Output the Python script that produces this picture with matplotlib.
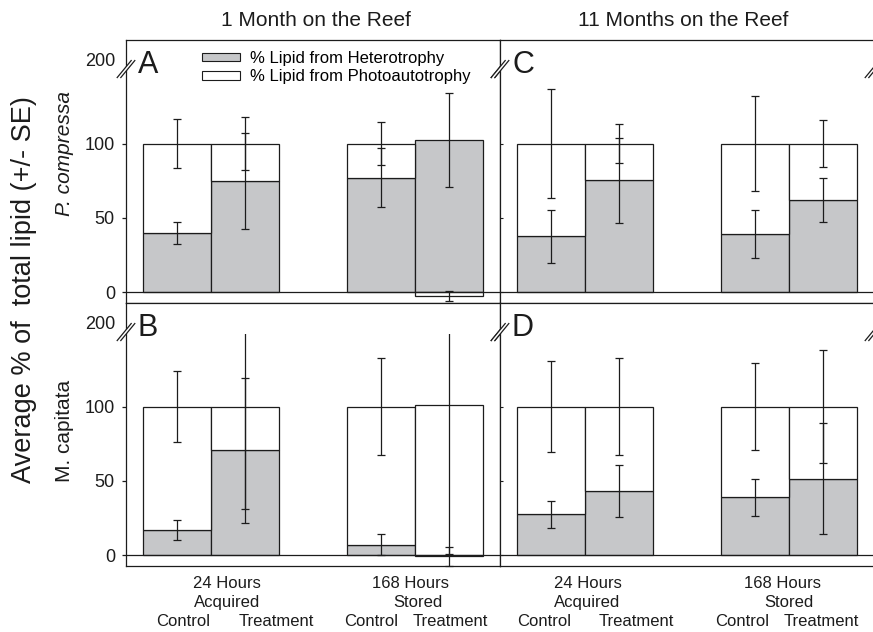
import numpy as np
import matplotlib
matplotlib.use("Agg")
import matplotlib.pyplot as plt
import matplotlib.transforms as mtransforms
from matplotlib.patches import Patch, Polygon, Rectangle

plt.rcParams['font.family'] = ['Liberation Sans', 'DejaVu Sans']

# ----------------------------------------------------------
# DATA
# order of bars: 24h Control, 24h Treatment, 168h Control, 168h Treatment
# ----------------------------------------------------------
het_A = [40.0, 75.0, 77.0, 102.3]
het_err_A = [7.4, 32.2, 19.7, 31.5]
photo_A = [60.0, 25.0, 23.0, -2.3]
photo_err_A = [16.4, 17.7, 14.4, 3.4]

het_B = [17.0, 70.6, 7.3, -0.7]
het_err_B = [6.6, 48.6, 7.3, 6.1]
photo_B = [83.0, 29.4, 92.7, 101.0]
photo_err_B = [23.9, 68.9, 32.8, 100.0]

het_C = [37.6, 75.2, 39.5, 62.2]
het_err_C = [17.9, 28.4, 16.1, 14.7]
photo_C = [62.4, 24.8, 60.5, 37.8]
photo_err_C = [36.9, 13.4, 32.1, 15.9]

het_D = [27.5, 43.2, 38.9, 51.6]
het_err_D = [9.1, 17.5, 12.7, 37.5]
photo_D = [72.5, 56.8, 61.1, 48.4]
photo_err_D = [30.8, 32.6, 29.0, 37.9]

col_titles = ["1 Month on the Reef", "11 Months on the Reef"]
row_labels = ["P. compressa", "M. capitata"]
panel_letters = [["A", "C"], ["B", "D"]]
legend_labels = ["% Lipid from Heterotrophy", "% Lipid from Photoautotrophy"]
ylabel = "Average % of  total lipid (+/- SE)"
ytick_vals = [0, 50, 100]
ytick_labels = ["0", "50", "100", "200"]
group_labels = [["24 Hours", "Acquired"], ["168 Hours", "Stored"]]
cond_labels = ["Control", "Treatment"]

GRAY = '#c6c7c9'
INK = '#1c1c1c'
W, H = 873, 632
BREAK_AT = 150.0    # where the broken axis jumps to 200
LABEL_200 = 156.2


def draw_break(ax, xfrac, yval, axw=374.0, axh=263.0):
    y0, y1 = ax.get_ylim()
    yc = (yval - y0) / (y1 - y0)
    hx, hy = 7.0 / axw, 8.5 / axh
    g = 1.8 / axw
    poly = Polygon([(xfrac - hx - g, yc - hy), (xfrac + hx - g, yc + hy),
                    (xfrac + hx + g, yc + hy), (xfrac - hx + g, yc - hy)],
                   closed=True, transform=ax.transAxes, fc='white', ec='none',
                   clip_on=False, zorder=6)
    ax.add_patch(poly)
    for s in (-g, g):
        ax.plot([xfrac - hx + s, xfrac + hx + s], [yc - hy, yc + hy],
                transform=ax.transAxes, color=INK, lw=0.9, clip_on=False,
                zorder=7)


def draw_panel(ax, het, het_err, photo, photo_err):
    x = np.array([0.75, 1.75, 3.75, 4.75])
    het = np.array(het)
    photo = np.array(photo)
    # negative parts hang below zero instead of stacking
    photo_bottom = np.where(photo >= 0, np.clip(het, 0, None), 0)
    ax.bar(x, het, width=1.0, color=GRAY, edgecolor=INK, linewidth=0.9,
           zorder=2)
    ax.bar(x, photo, width=1.0, bottom=photo_bottom, color='white',
           edgecolor=INK, linewidth=0.9, zorder=2)
    ax.axhline(0, color=INK, lw=0.9, zorder=3)

    # error bars cut off at the axis break
    clip = Rectangle((-1, -50), 8, 50 + BREAK_AT - 1, transform=ax.transData)
    for yv, ev in ((het, het_err), (photo_bottom + photo, photo_err)):
        eb = ax.errorbar(x, yv, yerr=ev, fmt='none', ecolor=INK,
                         elinewidth=0.9, capsize=3, capthick=0.9, zorder=4)
        for art in list(eb.lines[1]) + list(eb.lines[2]):
            art.set_clip_path(clip)

    ax.set_xlim(0, 5.5)
    ax.set_ylim(-7.1, 169.5)
    ax.set_xticks([])
    for sp in ax.spines.values():
        sp.set_linewidth(0.9)
        sp.set_color(INK)


fig = plt.figure(figsize=(W / 100, H / 100), dpi=100)

panels = [[(het_A, het_err_A, photo_A, photo_err_A),
           (het_C, het_err_C, photo_C, photo_err_C)],
          [(het_B, het_err_B, photo_B, photo_err_B),
           (het_D, het_err_D, photo_D, photo_err_D)]]

lefts = [126, 500]
tops = [40, 303]
axw, axh = 374, 263
axes = [[None, None], [None, None]]

for r in range(2):
    for c in range(2):
        ax = fig.add_axes([lefts[c] / W, 1 - (tops[r] + axh) / H, axw / W, axh / H])
        draw_panel(ax, *panels[r][c])
        axes[r][c] = ax
        if c == 0:
            ax.set_yticks(ytick_vals + [LABEL_200])
            ax.set_yticklabels(ytick_labels, fontsize=13, color=INK)
            ax.tick_params(axis='y', direction='out', length=3, width=0.9,
                           pad=5, colors=INK)
            ax.yaxis.get_major_ticks()[3].tick1line.set_visible(False)
        else:
            ax.set_yticks(ytick_vals)
            ax.set_yticklabels([])
            ax.tick_params(axis='y', direction='in', length=2, width=0.8,
                           colors=INK)
        ax.text(12 / axw, 1 - 33 / axh, panel_letters[r][c], transform=ax.transAxes,
                fontsize=22, ha='left', va='baseline', color=INK, zorder=8)
        draw_break(ax, 0.0, BREAK_AT)
        draw_break(ax, 1.0, BREAK_AT)

# legend in panel A
handles = [Patch(facecolor=GRAY, edgecolor=INK, linewidth=0.8),
           Patch(facecolor='white', edgecolor=INK, linewidth=0.8)]
axes[0][0].legend(handles, legend_labels, loc='upper left',
                  bbox_to_anchor=((202 - 126) / axw, 1 - 11 / axh),
                  frameon=False, fontsize=12, handlelength=2.3,
                  handleheight=0.42, handletextpad=0.6, labelspacing=0.2,
                  borderpad=0, borderaxespad=0)

# column titles
fig.text(316 / W, 1 - 26 / H, col_titles[0], fontsize=15, ha='center',
         va='baseline', color=INK)
fig.text(683 / W, 1 - 26 / H, col_titles[1], fontsize=15, ha='center',
         va='baseline', color=INK)

# row (species) labels and the common y label
fig.text(65 / W, 1 - 153 / H, row_labels[0], fontsize=15, style='italic',
         rotation=90, ha='center', va='center', color=INK)
fig.text(65 / W, 1 - 431 / H, row_labels[1], fontsize=15,
         rotation=90, ha='center', va='center', color=INK)
fig.text(24 / W, 1 - 290 / H, ylabel, fontsize=19.5, rotation=90,
         ha='center', va='center', color=INK)

# category labels under the bottom panels (x in data units)
xlab_pos = [
    # 24 Hours, Acquired, Control, Treatment, 168 Hours, Stored, Control, Treatment
    [1.485, 1.485, 0.846, 2.206, 4.19, 4.294, 3.603, 4.765],
    [1.294, 1.275, 0.643, 2.01, 4.16, 4.25, 3.56, 4.72],
]
base_y = [588, 607, 626]
for c in range(2):
    ax = axes[1][c]
    tr = mtransforms.blended_transform_factory(ax.transData, fig.transFigure)
    p = xlab_pos[c]
    for g in range(2):
        ax.text(p[4 * g], 1 - base_y[0] / H, group_labels[g][0], transform=tr,
                fontsize=12, ha='center', va='baseline', color=INK)
        ax.text(p[4 * g + 1], 1 - base_y[1] / H, group_labels[g][1], transform=tr,
                fontsize=12, ha='center', va='baseline', color=INK)
        ax.text(p[4 * g + 2], 1 - base_y[2] / H, cond_labels[0], transform=tr,
                fontsize=12, ha='center', va='baseline', color=INK)
        ax.text(p[4 * g + 3], 1 - base_y[2] / H, cond_labels[1], transform=tr,
                fontsize=12, ha='center', va='baseline', color=INK)

fig.savefig("out.png", dpi=100)
